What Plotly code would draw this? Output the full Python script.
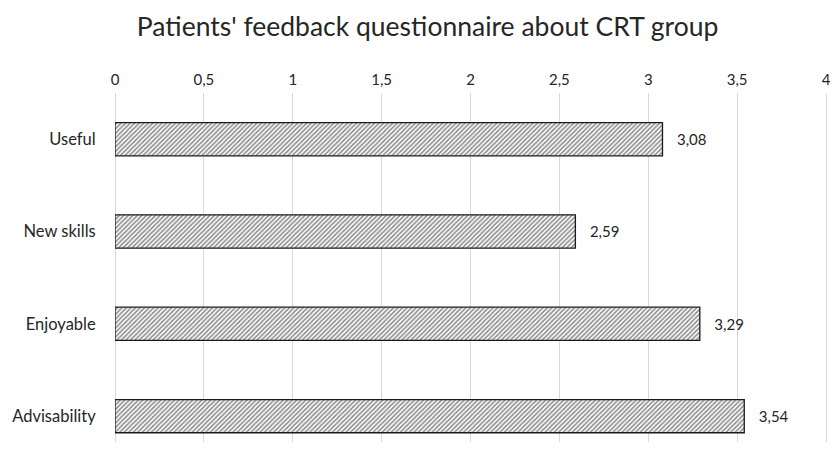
import plotly.graph_objects as go

categories = ["Useful", "New skills", "Enjoyable", "Advisability"]
values = [3.08, 2.59, 3.29, 3.54]
tick_vals = [0, 0.5, 1, 1.5, 2, 2.5, 3, 3.5, 4]
tick_text = ["0", "0,5", "1", "1,5", "2", "2,5", "3", "3,5", "4"]
title_text = "Patients' feedback questionnaire about CRT group"

FONT = "Lato, 'Open Sans', sans-serif"
TXT = "#262626"

# page body has an 8px margin; keep the page inside the 838x457 window
W, H = 826, 434

fig = go.Figure()
fig.add_trace(go.Bar(
    y=categories, x=values, orientation="h",
    marker=dict(
        color="white",
        line=dict(color="#1a1a1a", width=1.3),
        pattern=dict(shape="/", fgcolor="#1a1a1a", bgcolor="white", size=3.2, solidity=0.5),
    ),
    width=0.36,
    text=[f"{v:.2f}".replace(".", ",") for v in values],
    texttemplate="   %{text}",
    textposition="outside",
    textfont=dict(family=FONT, size=15, color=TXT),
    cliponaxis=False,
    hoverinfo="skip",
))

fig.update_layout(
    width=W, height=H,
    paper_bgcolor="white", plot_bgcolor="white",
    margin=dict(l=107, r=3, t=85, b=0),
    showlegend=False,
    separators=",.",
    title=dict(text=title_text, x=0.508, xanchor="center", y=1 - 19 / H, yanchor="middle",
               font=dict(family=FONT, size=26.5, color=TXT)),
    xaxis=dict(
        side="top", range=[0, 4.028], tickvals=tick_vals, ticktext=tick_text,
        showgrid=True, gridcolor="#d9d9d9", gridwidth=1,
        zeroline=True, zerolinecolor="#d9d9d9", zerolinewidth=1,
        showline=False, ticks="outside", ticklen=1, tickcolor="rgba(0,0,0,0)",
        tickfont=dict(family=FONT, size=15, color=TXT), automargin=False,
        ticklabeloverflow="allow",
    ),
    yaxis=dict(
        range=[3.28, -0.5], showgrid=False, zeroline=False, showline=False,
        ticks="outside", ticklen=15, tickcolor="rgba(0,0,0,0)",
        tickfont=dict(family=FONT, size=16.5, color=TXT), automargin=False,
    ),
)

fig.write_html("out.html")
